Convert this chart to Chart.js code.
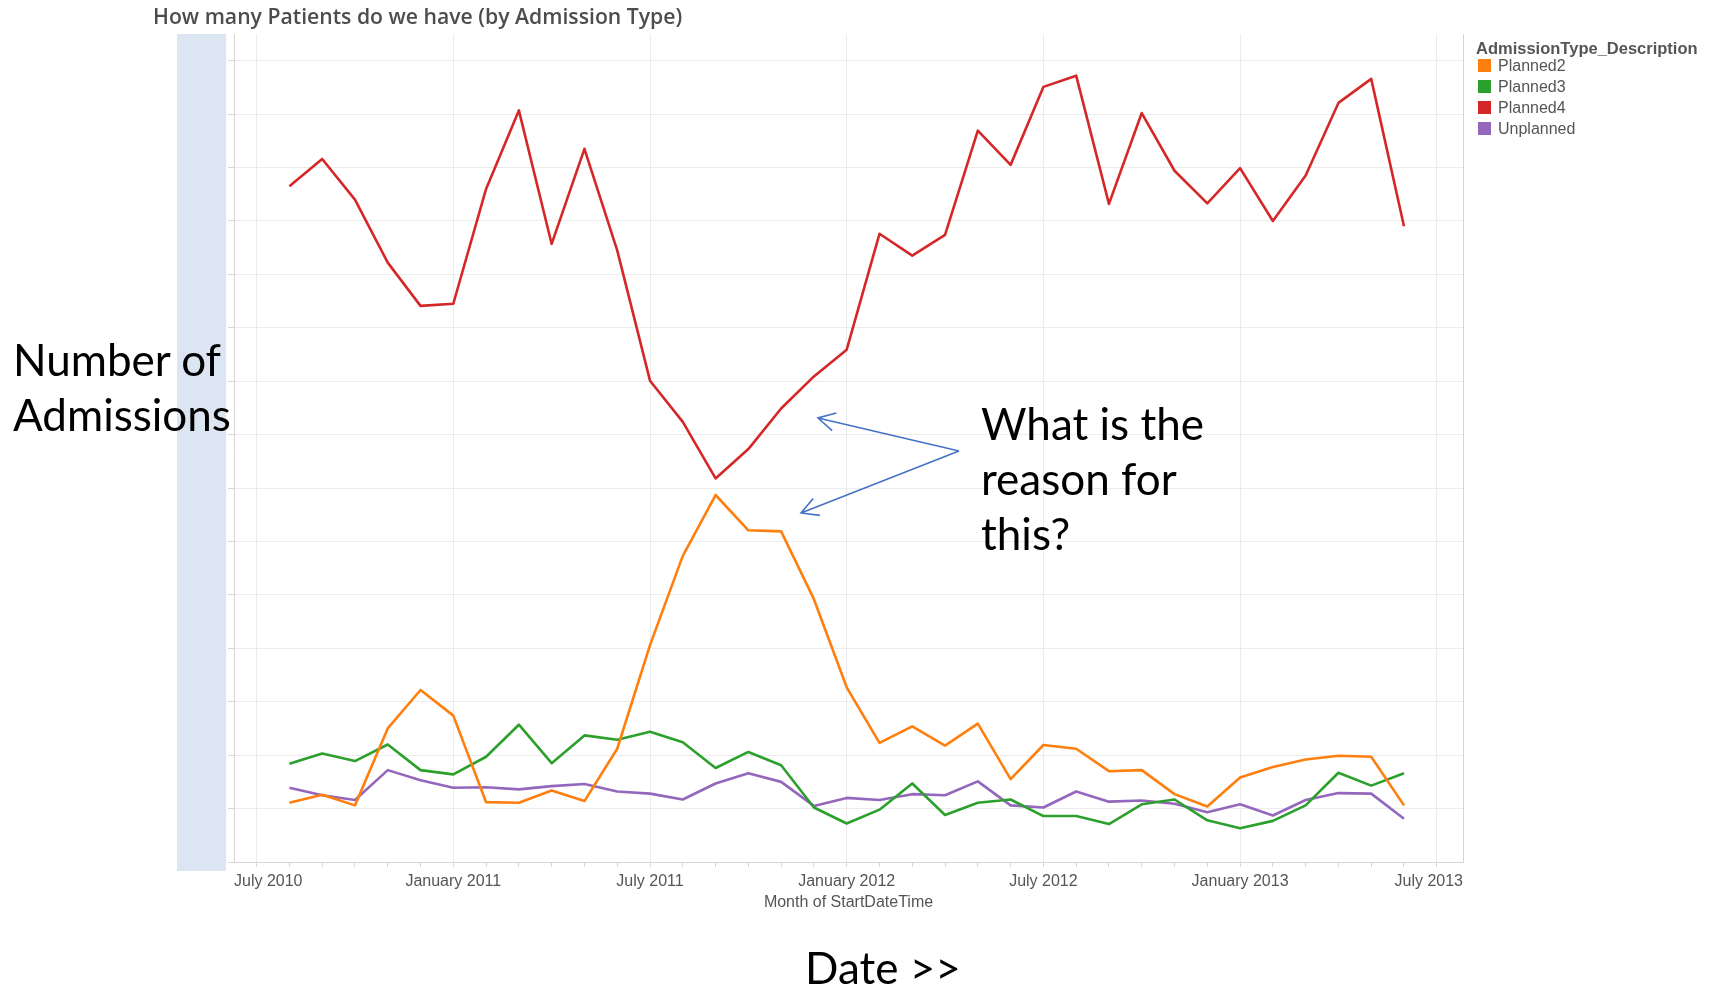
<!DOCTYPE html>
<html>
<head>
<meta charset="utf-8">
<title>How many Patients do we have (by Admission Type)</title>
<script src="https://cdn.jsdelivr.net/npm/chart.js@4.4.1/dist/chart.umd.min.js"></script>
<style>
	html, body { margin: 0; padding: 0; background: #fff; }
	#page { position: relative; width: 1713px; height: 990px; overflow: hidden; }
	#band { position: absolute; left: 177px; top: 34px; width: 49px; height: 837px; background: #dce6f2; }
	#admChart { position: absolute; left: 0; top: 0; }
	#title { position: absolute; left: 153px; top: 3px; font-family: 'Open Sans', sans-serif; font-weight: 600; font-size: 21.2px; line-height: 26px; color: #4d4d4d; white-space: nowrap; }
	.note { position: absolute; font-family: Lato, 'Open Sans', sans-serif; font-size: 44px; line-height: 55px; color: #000; white-space: nowrap; }
	#legend { position: absolute; left: 1476px; top: 0; font-family: 'Liberation Sans', Arial, sans-serif; color: #555; }
	#legend .lg-title { position: absolute; left: 0; top: 40px; font-size: 16.5px; font-weight: bold; line-height: 16px; white-space: nowrap; }
	#legend .lg-row { position: absolute; left: 0; height: 21px; width: 230px; }
	#legend .lg-box { position: absolute; left: 2px; top: 1px; width: 13px; height: 13px; }
	#legend .lg-text { position: absolute; left: 22px; top: 0; font-size: 16px; line-height: 16px; white-space: nowrap; }
	#arrows { position: absolute; left: 0; top: 0; }
</style>
</head>
<body>
<div id="page">
	<div id="band"></div>
	<canvas id="admChart" width="1713" height="990"></canvas>
	<div id="title">How many Patients do we have (by Admission Type)</div>
	<div id="legend"><div class="lg-title">AdmissionType_Description</div></div>
	<div class="note" style="left:13px; top:332px;">Number of<br>Admissions</div>
	<div class="note" style="left:981px; top:396px;">What is the<br>reason for<br>this?</div>
	<div class="note" style="left:805px; top:940px;">Date &gt;&gt;</div>
	<svg id="arrows" width="1713" height="990"></svg>
</div>

<script>
/***************************** data *****************************/
// month of StartDateTime
const months = [
	'2010-08', '2010-09', '2010-10', '2010-11', '2010-12',
	'2011-01', '2011-02', '2011-03', '2011-04', '2011-05', '2011-06',
	'2011-07', '2011-08', '2011-09', '2011-10', '2011-11', '2011-12',
	'2012-01', '2012-02', '2012-03', '2012-04', '2012-05', '2012-06',
	'2012-07', '2012-08', '2012-09', '2012-10', '2012-11', '2012-12',
	'2013-01', '2013-02', '2013-03', '2013-04', '2013-05', '2013-06'
]

// admissions per month
const planned2 = [
	11.1, 12.6, 10.6, 25.0, 32.2,
	27.4, 11.2, 11.1, 13.4, 11.4, 21.2, 40.6, 57.3, 68.7, 62.1, 61.9, 49.2,
	32.7, 22.3, 25.4, 21.8, 25.9, 15.5, 21.9, 21.2, 17.0, 17.2, 12.7, 10.4,
	15.8, 17.8, 19.2, 19.9, 19.7, 10.6
]
const planned3 = [
	18.4, 20.3, 18.9, 22.0, 17.2,
	16.4, 19.7, 25.7, 18.5, 23.7, 22.9, 24.4, 22.4, 17.6, 20.6, 18.1, 10.2,
	7.2, 9.8, 14.7, 8.8, 11.1, 11.7, 8.6, 8.6, 7.1, 10.8, 11.7, 7.8,
	6.3, 7.7, 10.6, 16.7, 14.3, 16.6
]
const planned4 = [
	126.5, 131.6, 124.0, 112.2, 104.1,
	104.5, 126.0, 140.7, 115.7, 133.5, 114.5, 90.1, 82.4, 71.8, 77.3, 84.9, 90.9,
	95.9, 117.6, 113.5, 117.4, 136.9, 130.5, 145.1, 147.2, 123.2, 140.2, 129.4, 123.3,
	129.9, 120.0, 128.5, 142.1, 146.6, 119.0
]
const unplanned = [
	13.9, 12.5, 11.6, 17.2, 15.3,
	13.9, 14.0, 13.6, 14.2, 14.6, 13.2, 12.8, 11.7, 14.7, 16.6, 15.0, 10.5,
	12.0, 11.6, 12.7, 12.5, 15.1, 10.6, 10.2, 13.2, 11.3, 11.5, 10.9, 9.3,
	10.8, 8.7, 11.6, 12.9, 12.8, 8.1
]

const seriesNames = ['Planned2', 'Planned3', 'Planned4', 'Unplanned']
const seriesColors = ['#ff7f0e', '#2ca02c', '#d62728', '#9467bd']

const xTickLabels = ['July 2010', 'January 2011', 'July 2011', 'January 2012', 'July 2012', 'January 2013', 'July 2013']
const xAxisTitle = 'Month of StartDateTime'

const monthNames = ['January', 'February', 'March', 'April', 'May', 'June',
	'July', 'August', 'September', 'October', 'November', 'December']

/***************************** helpers *****************************/
// months counted from July 2010 -> x value on the linear axis
function monthNo(year, month) {
	return (year - 2010) * 12 + (month - 7)
}

function labelMonthNo(label) {
	let parts = label.split(' ')
	return monthNo(Number(parts[1]), monthNames.indexOf(parts[0]) + 1)
}

function toPoints(values) {
	return values.map(function(v, i) {
		let ym = months[i].split('-')
		return { x: monthNo(Number(ym[0]), Number(ym[1])), y: v }
	})
}

let tickLabelAt = {}
for (let lbl of xTickLabels) {
	tickLabelAt[labelMonthNo(lbl)] = lbl
}
const firstTick = labelMonthNo(xTickLabels[0])
const lastTick = labelMonthNo(xTickLabels[xTickLabels.length - 1])

/***************************** legend *****************************/
let legend = document.getElementById('legend')
seriesNames.forEach(function(name, i) {
	let row = document.createElement('div')
	row.className = 'lg-row'
	row.style.top = (58 + i * 21) + 'px'
	row.innerHTML = '<div class="lg-box" style="background:' + seriesColors[i] + '"></div>' +
		'<div class="lg-text">' + name + '</div>'
	legend.appendChild(row)
})

/***************************** arrows *****************************/
function arrow(svg, x1, y1, x2, y2) {
	let ang = Math.atan2(y1 - y2, x1 - x2)
	let len = 19
	let a1 = ang - 0.5, a2 = ang + 0.5
	let d = 'M' + x1 + ' ' + y1 + ' L' + x2 + ' ' + y2 +
		' M' + (x2 + len * Math.cos(a1)) + ' ' + (y2 + len * Math.sin(a1)) +
		' L' + x2 + ' ' + y2 +
		' L' + (x2 + len * Math.cos(a2)) + ' ' + (y2 + len * Math.sin(a2))
	let p = document.createElementNS('http://www.w3.org/2000/svg', 'path')
	p.setAttribute('d', d)
	p.setAttribute('fill', 'none')
	p.setAttribute('stroke', '#4472c4')
	p.setAttribute('stroke-width', '1.6')
	svg.appendChild(p)
}
let svg = document.getElementById('arrows')
arrow(svg, 959, 451, 818, 418)
arrow(svg, 959, 451, 801, 513)

/***************************** chart *****************************/
// keep the first/last month labels inside the pane
const edgeLabels = {
	id: 'edgeLabels',
	beforeDraw(chart) {
		let sc = chart.scales.x
		let area = chart.chartArea
		let ctx = chart.ctx
		for (let it of sc.getLabelItems()) {
			if (!it.label) continue
			ctx.save()
			ctx.font = it.font.string
			let half = ctx.measureText(it.label).width / 2
			ctx.restore()
			let x = it.options.translation[0]
			if (x - half < area.left) it.options.translation[0] = area.left + half
			if (x + half > area.right) it.options.translation[0] = area.right - half
		}
	}
}

const axisGrey = '#d6d6d6'
const gridGrey = '#ececec'
const tickFont = { family: "'Liberation Sans', Arial, sans-serif", size: 16 }

let datasets = [planned2, planned3, planned4, unplanned].map(function(values, i) {
	return {
		label: seriesNames[i],
		data: toPoints(values),
		borderColor: seriesColors[i],
		backgroundColor: seriesColors[i],
		borderWidth: 2.6,
		borderJoinStyle: 'round',
		pointRadius: 0,
		tension: 0,
		fill: false
	}
})

let chartArea = document.getElementById('admChart').getContext('2d')

let admChart = new Chart(chartArea, {
	type: 'line',
	data: { datasets: datasets },
	plugins: [edgeLabels],
	options: {
		responsive: false,
		animation: false,
		events: [],
		layout: { padding: { left: 228, right: 250, top: 34, bottom: 72 } },
		plugins: {
			legend: { display: false },
			tooltip: { enabled: false }
		},
		scales: {
			x: {
				type: 'linear',
				min: -0.69,
				max: 36.8,
				afterBuildTicks: function(scale) {
					let ticks = []
					for (let v = firstTick; v <= lastTick; v++) ticks.push({ value: v })
					scale.ticks = ticks
				},
				afterFit: function(scale) { scale.height = 56 },
				ticks: {
					autoSkip: false,
					maxRotation: 0,
					padding: 4.6,
					color: '#555',
					font: tickFont,
					callback: function(v) { return tickLabelAt[v] || '' }
				},
				grid: {
					color: function(c) { return (c.tick && tickLabelAt[c.tick.value]) ? gridGrey : 'rgba(0,0,0,0)' },
					tickColor: axisGrey,
					tickLength: 5
				},
				border: { color: axisGrey, width: 1 },
				title: {
					display: true,
					text: xAxisTitle,
					color: '#555',
					font: tickFont,
					padding: { top: 0, bottom: 6 }
				}
			},
			y: {
				min: 0,
				max: 155,
				afterFit: function(scale) { scale.width = 6 },
				ticks: { display: false, stepSize: 10, includeBounds: false },
				grid: { color: gridGrey, tickColor: axisGrey, tickLength: 6 },
				border: { color: axisGrey, width: 1 }
			},
			// right edge of the pane
			yEdge: {
				position: 'right',
				min: 0,
				max: 155,
				ticks: { display: false },
				grid: { display: false, drawTicks: false },
				border: { display: true, color: axisGrey, width: 1 }
			}
		}
	}
})
</script>
</body>
</html>
